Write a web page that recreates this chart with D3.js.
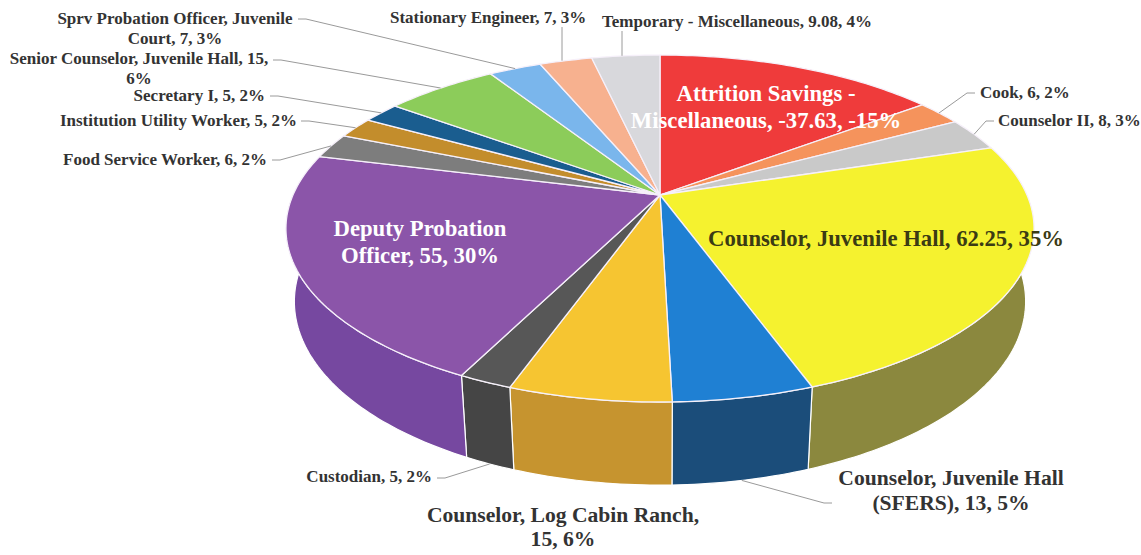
<!DOCTYPE html>
<html>
<head>
<meta charset="utf-8">
<script src="https://cdn.jsdelivr.net/npm/d3@7"></script>
<style>
  body { margin: 0; background: #fff; }
  text { font-family: "Liberation Serif", "Times New Roman", serif; font-weight: bold; }
</style>
</head>
<body>
<div id="chart"></div>
<script>
// slices in clockwise order from 12 o'clock
const categories = [
  "Attrition Savings - Miscellaneous", "Cook", "Counselor II", "Counselor, Juvenile Hall",
  "Counselor, Juvenile Hall (SFERS)", "Counselor, Log Cabin Ranch", "Custodian",
  "Deputy Probation Officer", "Food Service Worker", "Institution Utility Worker",
  "Secretary I", "Senior Counselor, Juvenile Hall", "Sprv Probation Officer, Juvenile Court",
  "Stationary Engineer", "Temporary - Miscellaneous"
];
const values = [-37.63, 6, 8, 62.25, 13, 15, 5, 55, 6, 5, 5, 15, 7, 7, 9.08];
const percents = ["-15%", "2%", "3%", "35%", "5%", "6%", "2%", "30%", "2%", "2%", "2%", "6%", "3%", "3%", "4%"];
const topColors = [
  "#ef3b3b", "#f5935c", "#c9c9c9", "#f5f22f", "#1f80d3", "#f6c531", "#575757",
  "#8b55a9", "#7d7d7d", "#c38d2c", "#1a5d8f", "#8ccc5a", "#7ab6ec", "#f7b18f", "#d8d8dc"
];
const sideColors = [
  "#a82a2a", "#b06a40", "#8e8e8e", "#8b883e", "#1b4d7a", "#c6942f", "#454545",
  "#7648a0", "#5a5a5a", "#8a6420", "#123f62", "#62903f", "#5580a8", "#b07e66", "#9a9a9e"
];

const width = 1141, height = 555;
const cx = 660, cy = 195, S = 367, D = 4.607, depth = 0.2248;
const tilt = Math.asin(0.455);

// perspective projection of a point on the pie disc (theta clockwise from back)
function project(theta, y) {
  const X = Math.sin(theta), Z = -Math.cos(theta);
  const yc = y * Math.cos(tilt) - Z * Math.sin(tilt);
  const d = D - (Z * Math.cos(tilt) + y * Math.sin(tilt));
  return [cx + S * X * D / d, cy - S * yc * D / d];
}

function arcPoints(a0, a1, y) {
  const n = Math.max(2, Math.ceil(Math.abs(a1 - a0) / (Math.PI / 180)));
  return d3.range(n + 1).map(i => project(a0 + (a1 - a0) * i / n, y));
}

const arcs = d3.pie().sort(null).value(d => Math.abs(d))(values);
const line = d3.line();

const svg = d3.select("#chart")
  .append("svg")
  .attr("width", width)
  .attr("height", height);

// outer walls, front half only
const walls = arcs.map((d, i) => {
  const t0 = Math.max(d.startAngle, Math.PI / 2), t1 = Math.min(d.endAngle, 3 * Math.PI / 2);
  if (t0 >= t1) return null;
  const pts = arcPoints(t0, t1, 0).concat(arcPoints(t1, t0, -depth));
  return {i, path: line(pts) + "Z"};
}).filter(d => d);

svg.append("g")
  .attr("stroke", "#fff")
  .attr("stroke-width", 1.2)
  .attr("stroke-linejoin", "round")
  .selectAll("path")
  .data(walls)
  .join("path")
  .attr("fill", d => sideColors[d.i])
  .attr("d", d => d.path);

// top faces
svg.append("g")
  .attr("stroke", "#f6f0fa")
  .attr("stroke-width", 1.3)
  .attr("stroke-linejoin", "round")
  .selectAll("path")
  .data(arcs)
  .join("path")
  .attr("fill", (d, i) => topColors[i])
  .attr("d", d => line([[cx, cy]].concat(arcPoints(d.startAngle, d.endAngle, 0))) + "Z");

// label layout
const labelText = (i) => `${categories[i]}, ${values[i]}, ${percents[i]}`;
const small = 17, big = 22.7, mid = 21.6;
const labels = [
  {i: 0, lines: ["Attrition Savings -", "Miscellaneous, -37.63, -15%"], x: 766, y: 101, lh: 27, size: big, anchor: "middle", color: "#fff"},
  {i: 1, lines: [labelText(1)], x: 980, y: 98, size: small, anchor: "start", lead: [975, 93]},
  {i: 2, lines: [labelText(2)], x: 998, y: 126, size: small, anchor: "start", lead: [994, 121]},
  {i: 3, lines: [labelText(3)], x: 886, y: 246, size: big, anchor: "middle", color: "#3b3b14"},
  {i: 4, lines: ["Counselor, Juvenile Hall", "(SFERS), 13, 5%"], x: 951, y: 485, lh: 25, size: mid, anchor: "middle", lead: [832, 503], wall: true},
  {i: 5, lines: ["Counselor, Log Cabin Ranch,", "15, 6%"], x: 563, y: 522, lh: 24, size: mid, anchor: "middle"},
  {i: 6, lines: [labelText(6)], x: 432, y: 482, size: small, anchor: "end", lead: [437, 478], wall: true},
  {i: 7, lines: ["Deputy Probation", "Officer, 55, 30%"], x: 420, y: 236, lh: 27, size: big, anchor: "middle", color: "#fff"},
  {i: 8, lines: [labelText(8)], x: 267, y: 165, size: small, anchor: "end", lead: [272, 160]},
  {i: 9, lines: [labelText(9)], x: 297, y: 126, size: small, anchor: "end", lead: [301, 121]},
  {i: 10, lines: [labelText(10)], x: 265, y: 101, size: small, anchor: "end", lead: [270, 96]},
  {i: 11, lines: ["Senior Counselor, Juvenile Hall, 15,", "6%"], x: 139, y: 64, lh: 20, size: small, anchor: "middle", lead: [273, 60]},
  {i: 12, lines: ["Sprv Probation Officer, Juvenile", "Court, 7, 3%"], x: 175, y: 24, lh: 20, size: small, anchor: "middle", lead: [298, 19]},
  {i: 13, lines: [labelText(13)], x: 390, y: 23, size: small, anchor: "start", lead: [562, 27], vertical: true},
  {i: 14, lines: [labelText(14)], x: 602, y: 27, size: small, anchor: "start", lead: [622, 31], vertical: true}
];

// leader lines to the middle of each slice rim
svg.append("g")
  .attr("fill", "none")
  .attr("stroke", "#9a9a9a")
  .attr("stroke-width", 1)
  .selectAll("path")
  .data(labels.filter(d => d.lead))
  .join("path")
  .attr("d", d => {
    const a = arcs[d.i];
    const m = (a.startAngle + a.endAngle) / 2;
    const end = project(m, d.wall ? -depth : 0);
    if (d.vertical) return line([d.lead, [d.lead[0], end[1]]]);
    const dir = end[0] > d.lead[0] ? 1 : -1;
    return line([d.lead, [d.lead[0] + dir * 8, d.lead[1]], end]);
  });

svg.append("g")
  .selectAll("text")
  .data(labels)
  .join("text")
  .attr("x", d => d.x)
  .attr("y", d => d.y)
  .attr("text-anchor", d => d.anchor)
  .attr("font-size", d => d.size)
  .attr("fill", d => d.color || "#333")
  .selectAll("tspan")
  .data(d => d.lines.map((t, k) => ({t, k, d})))
  .join("tspan")
  .attr("x", o => o.d.x)
  .attr("dy", o => o.k ? o.d.lh : 0)
  .text(o => o.t);
</script>
</body>
</html>
